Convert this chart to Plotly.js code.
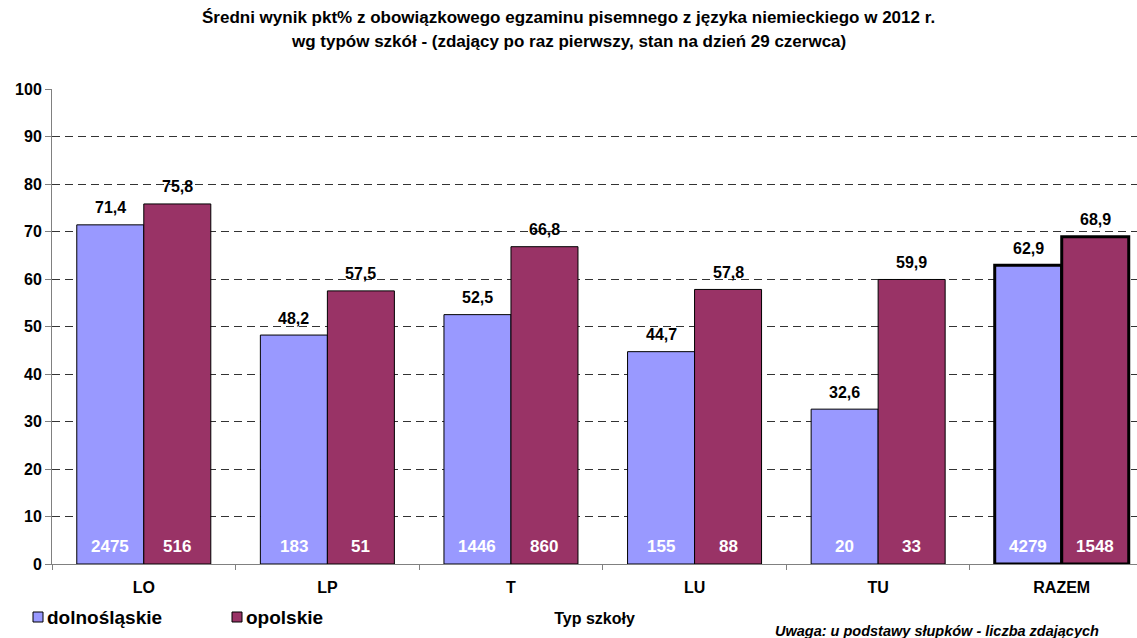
<!DOCTYPE html>
<html><head><meta charset="utf-8">
<script src="https://cdn.plot.ly/plotly-3.0.1.min.js"></script>
<style>html,body{margin:0;padding:0;background:#fff}#chart{width:1137px;height:638px}</style>
</head><body><div id="chart"></div>
<script>
const categories = ['LO', 'LP', 'T', 'LU', 'TU', 'RAZEM'];
const seriesNames = ['dolnośląskie', 'opolskie'];
const dolnoslaskie = [71.4, 48.2, 52.5, 44.7, 32.6, 62.9];
const opolskie = [75.8, 57.5, 66.8, 57.8, 59.9, 68.9];
const countsDolnoslaskie = [2475, 183, 1446, 155, 20, 4279];
const countsOpolskie = [516, 51, 860, 88, 33, 1548];
const titleLine1 = 'Średni wynik pkt% z obowiązkowego egzaminu pisemnego z języka niemieckiego w 2012 r.';
const titleLine2 = 'wg typów szkół - (zdający po raz pierwszy, stan na dzień 29 czerwca)';
const xTitle = 'Typ szkoły';
const note = 'Uwaga: u podstawy słupków - liczba zdających';

const FONT = 'Liberation Sans, Arial, sans-serif';
const colors = ['#9999FF', '#993366'];
const lineWidths = categories.map(c => c === 'RAZEM' ? 3 : 1);

const bargap = 0.27;
const half = (1 - bargap) / 2;

// pixel helpers for paper coords (plot area: x 52..1137, y 89..564)
const px = v => (v - 52) / 1085;
const py = v => (564 - v) / 475;

function barTrace(name, vals, color) {
  return {
    type: 'bar', name: name, x: categories, y: vals,
    marker: {color: color, line: {color: '#000', width: lineWidths}},
    hoverinfo: 'skip'
  };
}

const data = [
  barTrace(seriesNames[0], dolnoslaskie, colors[0]),
  barTrace(seriesNames[1], opolskie, colors[1])
];

const annotations = [];
categories.forEach((c, i) => {
  [[dolnoslaskie, countsDolnoslaskie, -half / 2], [opolskie, countsOpolskie, half / 2]].forEach(([vals, cnts, off]) => {
    annotations.push({
      x: i + off, y: vals[i], xref: 'x', yref: 'y', yanchor: 'middle', yshift: 17,
      text: vals[i].toFixed(1).replace('.', ','), showarrow: false,
      font: {family: FONT, size: 16, color: '#000', weight: 'bold'}
    });
    annotations.push({
      x: i + off, y: 0, xref: 'x', yref: 'y', yanchor: 'middle', yshift: 18,
      text: String(cnts[i]), showarrow: false,
      font: {family: FONT, size: 17, color: '#fff', weight: 'bold'}
    });
  });
});
annotations.push({xref: 'paper', yref: 'paper', x: px(568), y: py(18), yanchor: 'middle', text: titleLine1,
  showarrow: false, font: {family: FONT, size: 17, color: '#000', weight: 'bold'}});
annotations.push({xref: 'paper', yref: 'paper', x: px(568), y: py(42), yanchor: 'middle', text: titleLine2,
  showarrow: false, font: {family: FONT, size: 17, color: '#000', weight: 'bold'}});
annotations.push({xref: 'paper', yref: 'paper', x: px(1101), xanchor: 'right', y: py(631), yanchor: 'middle',
  text: note, showarrow: false, font: {family: FONT, size: 14.5, color: '#000', weight: 'bold', style: 'italic'}});

// legend (custom, drawn at the positions of the reference legend)
const legendX = [33, 232];
const shapes = [];
seriesNames.forEach((n, k) => {
  shapes.push({type: 'rect', xref: 'paper', yref: 'paper',
    x0: px(legendX[k]), x1: px(legendX[k] + 10), y0: py(622), y1: py(612),
    fillcolor: colors[k], line: {color: '#000', width: 1}});
  annotations.push({xref: 'paper', yref: 'paper', x: px(legendX[k] + 12), xanchor: 'left',
    y: py(617), yanchor: 'middle', text: n, showarrow: false,
    font: {family: FONT, size: 19, color: '#000', weight: 'bold'}});
});

const layout = {
  width: 1137, height: 638,
  margin: {l: 52, r: 0, t: 89, b: 74},
  paper_bgcolor: '#fff', plot_bgcolor: '#fff',
  separators: ', ',
  barmode: 'group', bargap: bargap, bargroupgap: 0,
  showlegend: false,
  xaxis: {type: 'category', range: [-0.5, 5.41], tickson: 'boundaries', ticks: 'outside', ticklen: 5,
    tickcolor: '#808080', showline: true, linecolor: '#808080', linewidth: 1, showgrid: false,
    ticklabelstandoff: 9,
    tickfont: {family: FONT, size: 16, color: '#000', weight: 'bold'},
    title: {text: xTitle, standoff: 17, font: {family: FONT, size: 16, color: '#000', weight: 'bold'}},
    fixedrange: true},
  yaxis: {range: [0, 100], dtick: 10, ticks: 'outside', ticklen: 6, tickcolor: '#808080',
    showline: true, linecolor: '#808080', linewidth: 1,
    showgrid: true, gridcolor: '#333', griddash: '8px,5px', gridwidth: 1, zeroline: false,
    tickfont: {family: FONT, size: 16, color: '#000', weight: 'bold'}, fixedrange: true},
  annotations: annotations,
  shapes: shapes,
  font: {family: FONT}
};

Plotly.newPlot('chart', data, layout, {displayModeBar: false, staticPlot: true});
</script></body></html>
